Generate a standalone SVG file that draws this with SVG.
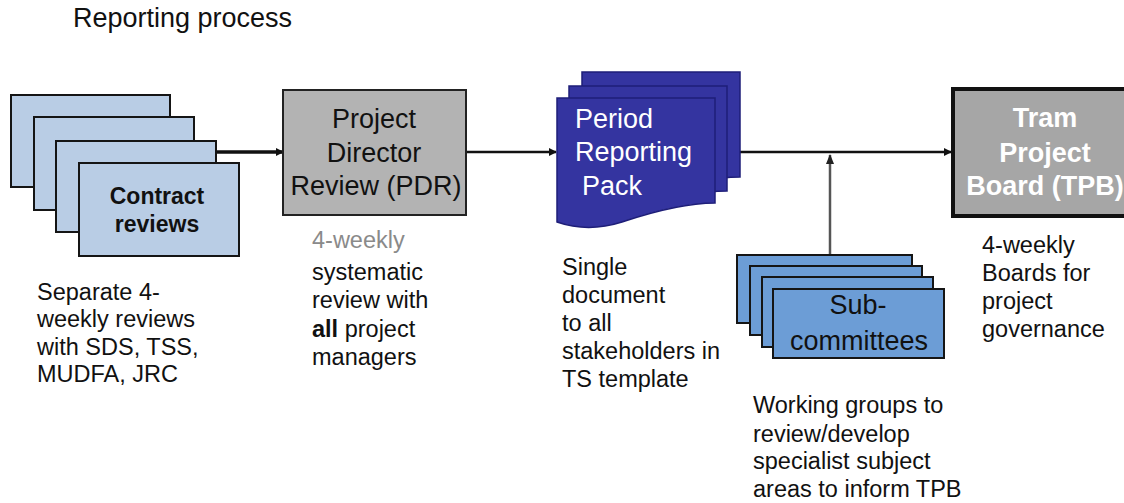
<svg xmlns="http://www.w3.org/2000/svg" width="1124" height="503" viewBox="0 0 1124 503">
<style>
text{font-family:"Liberation Sans",Arial,sans-serif;}
.t{font-size:23.5px;fill:#111;}
.box{font-size:27px;}
.cr{fill:#b9cde5;stroke:#151515;stroke-width:2;}
.sc{fill:#6c9dd6;stroke:#151515;stroke-width:2;}
.doc{fill:#3434a0;stroke:#1e1e78;stroke-width:1.5;}
.ln{fill:none;stroke:#111;stroke-width:2.5;}
</style>
<defs>
<marker id="ah" markerWidth="8" markerHeight="8" refX="7" refY="4" orient="auto" markerUnits="userSpaceOnUse">
<path d="M0,0 L8,4 L0,8 Z" fill="#111"/>
</marker>
<marker id="ahg" markerWidth="10" markerHeight="8" refX="9" refY="4" orient="auto" markerUnits="userSpaceOnUse">
<path d="M0,0 L10,4 L0,8 Z" fill="#222"/>
</marker>
<path id="docshape" d="M557,98 H715 V203 C684,203 652,212 622,222 C600,229 577,229 557,222 Z"/>
</defs>
<rect width="1124" height="503" fill="#fff"/>
<text x="73" y="27" style="font-size:27px;fill:#111">Reporting process</text>

<g id="connectors">
<line x1="216" y1="152" x2="283" y2="152" class="ln" style="stroke-width:3.5" marker-end="url(#ah)"/>
<line x1="466" y1="152" x2="556" y2="152" class="ln" marker-end="url(#ah)"/>
<line x1="738" y1="152" x2="951" y2="152" class="ln" marker-end="url(#ah)"/>
<line x1="830" y1="255" x2="830" y2="155" style="stroke:#555;stroke-width:2.5" marker-end="url(#ahg)"/>
</g>

<g id="contract-reviews">
<rect x="11" y="95" width="159" height="92" class="cr"/>
<rect x="34" y="117" width="160" height="93" class="cr"/>
<rect x="56" y="141" width="160" height="91" class="cr"/>
<rect x="79" y="163" width="160" height="93" class="cr"/>
<text x="157" y="204" text-anchor="middle" style="font-size:23px;font-weight:bold;fill:#111">Contract</text>
<text x="157" y="232" text-anchor="middle" style="font-size:23px;font-weight:bold;fill:#111">reviews</text>
</g>
<g id="contract-note">
<text class="t" x="37" y="300">Separate 4-</text>
<text class="t" x="37" y="327">weekly reviews</text>
<text class="t" x="37" y="355">with SDS, TSS,</text>
<text class="t" x="37" y="382">MUDFA, JRC</text>
</g>

<g id="pdr">
<rect x="283" y="90" width="183" height="125" fill="#b3b3b3" stroke="#222" stroke-width="2"/>
<text class="box" x="374" y="128" text-anchor="middle" fill="#111">Project</text>
<text class="box" x="374" y="162" text-anchor="middle" fill="#111">Director</text>
<text class="box" x="376" y="195" text-anchor="middle" fill="#111">Review (PDR)</text>
</g>
<g id="pdr-note">
<text class="t" x="312" y="248" style="fill:#8a8a8a">4-weekly</text>
<text class="t" x="312" y="280">systematic</text>
<text class="t" x="312" y="308">review with</text>
<text class="t" x="312" y="337"><tspan font-weight="bold">all</tspan> project</text>
<text class="t" x="312" y="365">managers</text>
</g>

<g id="period-reporting-pack">
<use href="#docshape" class="doc" transform="translate(25,-26)"/>
<use href="#docshape" class="doc" transform="translate(12,-12)"/>
<use href="#docshape" class="doc"/>
<text class="box" x="575" y="128" fill="#fff">Period</text>
<text class="box" x="575" y="161" fill="#fff">Reporting</text>
<text class="box" x="582" y="195" fill="#fff">Pack</text>
</g>
<g id="pack-note">
<text class="t" x="562" y="275">Single</text>
<text class="t" x="562" y="303">document</text>
<text class="t" x="562" y="331">to all</text>
<text class="t" x="562" y="359">stakeholders in</text>
<text class="t" x="562" y="387">TS template</text>
</g>

<g id="tpb">
<rect x="953" y="89" width="180" height="127" fill="#a6a6a6" stroke="#111" stroke-width="4"/>
<text class="box" x="1045" y="127" text-anchor="middle" fill="#fff" font-weight="bold">Tram</text>
<text class="box" x="1045" y="162" text-anchor="middle" fill="#fff" font-weight="bold">Project</text>
<text class="box" x="1045" y="195" text-anchor="middle" fill="#fff" font-weight="bold">Board (TPB)</text>
</g>
<g id="tpb-note">
<text class="t" x="982" y="253">4-weekly</text>
<text class="t" x="982" y="281">Boards for</text>
<text class="t" x="982" y="309">project</text>
<text class="t" x="982" y="337">governance</text>
</g>

<g id="sub-committees">
<rect x="737" y="255" width="175" height="68" class="sc"/>
<rect x="750" y="266" width="172" height="69" class="sc"/>
<rect x="762" y="277" width="171" height="70" class="sc"/>
<rect x="773" y="289" width="171" height="69" class="sc"/>
<text class="box" x="858" y="314" text-anchor="middle" fill="#111">Sub-</text>
<text class="box" x="859" y="350" text-anchor="middle" fill="#111">committees</text>
</g>
<g id="sub-note">
<text class="t" x="753" y="413">Working groups to</text>
<text class="t" x="753" y="442">review/develop</text>
<text class="t" x="753" y="469">specialist subject</text>
<text class="t" x="753" y="497">areas to inform TPB</text>
</g>
</svg>
